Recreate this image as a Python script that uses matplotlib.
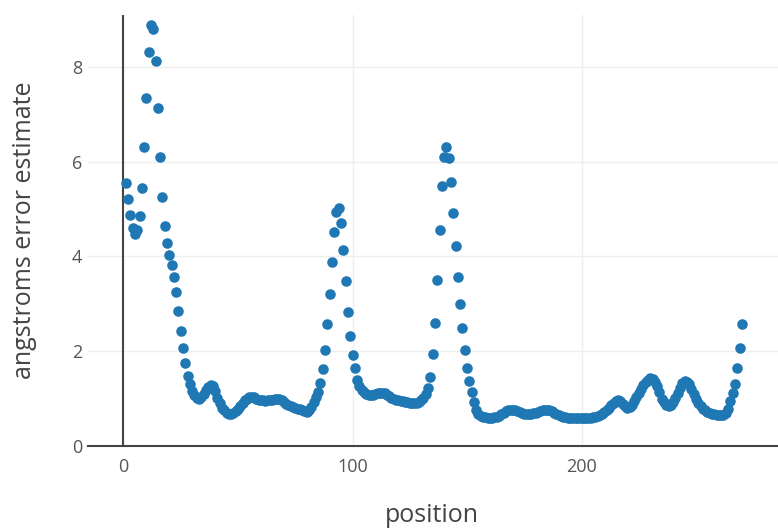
import matplotlib
matplotlib.use("Agg")
import matplotlib.pyplot as plt

# residue positions and per-position error estimate (angstroms)
positions = list(range(1, 271))
errors = [
    5.55, 5.20, 4.87, 4.60, 4.48, 4.55, 4.85, 5.44, 6.30, 7.33,
    8.32, 8.88, 8.79, 8.11, 7.12, 6.10, 5.26, 4.65, 4.28, 4.03,
    3.82, 3.57, 3.24, 2.85, 2.43, 2.06, 1.74, 1.48, 1.30, 1.16,
    1.07, 1.02, 1.00, 1.03, 1.10, 1.18, 1.25, 1.29, 1.26, 1.15,
    1.01, 0.90, 0.81, 0.75, 0.70, 0.68, 0.68, 0.70, 0.74, 0.79,
    0.85, 0.91, 0.96, 1.00, 1.03, 1.04, 1.03, 1.00, 0.98, 0.97,
    0.96, 0.95, 0.96, 0.97, 0.98, 0.99, 1.00, 0.99, 0.96, 0.92,
    0.89, 0.87, 0.85, 0.83, 0.81, 0.79, 0.77, 0.75, 0.73, 0.72,
    0.75, 0.82, 0.92, 1.03, 1.14, 1.32, 1.62, 2.03, 2.57, 3.20,
    3.89, 4.52, 4.94, 5.01, 4.70, 4.14, 3.47, 2.82, 2.31, 1.92,
    1.64, 1.39, 1.27, 1.19, 1.14, 1.10, 1.08, 1.07, 1.08, 1.10,
    1.11, 1.12, 1.12, 1.11, 1.08, 1.05, 1.02, 1.00, 0.98, 0.96,
    0.95, 0.94, 0.93, 0.92, 0.91, 0.90, 0.90, 0.91, 0.93, 0.97,
    1.02, 1.10, 1.22, 1.46, 1.93, 2.59, 3.50, 4.55, 5.49, 6.10,
    6.31, 6.07, 5.56, 4.92, 4.22, 3.57, 2.99, 2.48, 2.03, 1.65,
    1.37, 1.14, 0.92, 0.76, 0.68, 0.64, 0.62, 0.61, 0.60, 0.60,
    0.60, 0.61, 0.62, 0.64, 0.67, 0.70, 0.73, 0.75, 0.76, 0.76,
    0.75, 0.73, 0.71, 0.69, 0.68, 0.67, 0.67, 0.68, 0.69, 0.70,
    0.71, 0.73, 0.75, 0.76, 0.76, 0.75, 0.73, 0.70, 0.67, 0.65,
    0.63, 0.62, 0.61, 0.60, 0.59, 0.58, 0.58, 0.58, 0.58, 0.58,
    0.58, 0.59, 0.60, 0.60, 0.61, 0.62, 0.63, 0.65, 0.68, 0.72,
    0.76, 0.80, 0.86, 0.91, 0.95, 0.96, 0.94, 0.89, 0.84, 0.81,
    0.82, 0.87, 0.95, 1.03, 1.12, 1.20, 1.28, 1.35, 1.40, 1.43,
    1.42, 1.36, 1.26, 1.13, 1.00, 0.92, 0.87, 0.85, 0.86, 0.92,
    1.02, 1.12, 1.23, 1.32, 1.37, 1.36, 1.30, 1.20, 1.09, 0.99,
    0.91, 0.85, 0.79, 0.75, 0.72, 0.70, 0.68, 0.67, 0.66, 0.65,
    0.65, 0.66, 0.69, 0.78, 0.94, 1.11, 1.31, 1.64, 2.06, 2.57,
]
x_ticks = [0, 100, 200]
y_ticks = [0, 2, 4, 6, 8]

plt.rcParams['font.family'] = ['Open Sans', 'DejaVu Sans']

W, H = 778, 530
fig = plt.figure(figsize=(W / 100, H / 100), dpi=100)
left, right, top, bottom = 88, 778, 15, 446
ax = fig.add_axes([left / W, 1 - bottom / H, (right - left) / W, (bottom - top) / H])

# zero line on x and axis line along y=0
ax.axvline(0, color='#444444', lw=1.5, zorder=1)
ax.plot(positions, errors, 'o', color='#1f77b4', markersize=7.6, markeredgewidth=0, zorder=3)

ax.set_xlim(-15.5, 285.8)
ax.set_ylim(0, 9.09)
ax.set_xticks(x_ticks)
ax.set_yticks(y_ticks)
ax.grid(True, color='#eeeeee', lw=1, zorder=0)
ax.set_axisbelow(True)

for s in ['top', 'right', 'left']:
    ax.spines[s].set_visible(False)
ax.spines['bottom'].set_color('#444444')
ax.spines['bottom'].set_linewidth(1.5)

ax.tick_params(axis='both', length=0, labelsize=13, labelcolor='#555555')
ax.tick_params(axis='x', pad=9)
ax.tick_params(axis='y', pad=4)

fig.text(432 / W, 1 - 516 / H, 'position', ha='center', va='center', fontsize=18, color='#444444')
fig.text(25 / W, 1 - 230 / H, 'angstroms error estimate', ha='center', va='center',
         rotation=90, fontsize=18, color='#444444')

fig.savefig('out.png', dpi=100)
